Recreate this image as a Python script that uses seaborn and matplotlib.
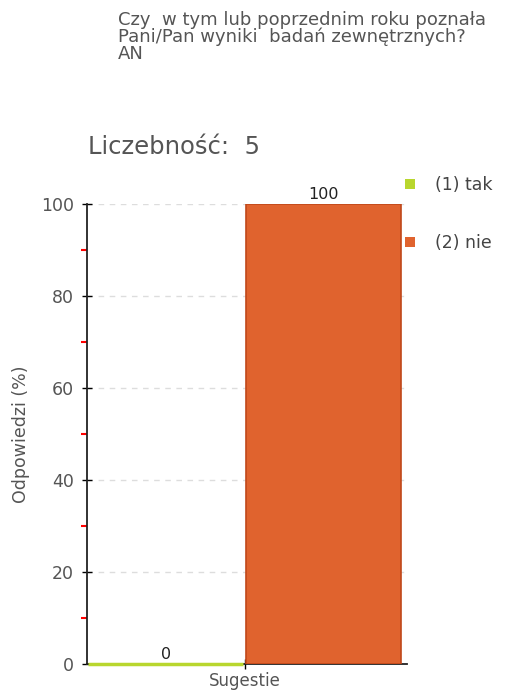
import pandas as pd
import seaborn as sns
import matplotlib
matplotlib.use("Agg")
from matplotlib import pyplot as plt
from matplotlib.patches import Patch
from matplotlib.ticker import MultipleLocator

# data
answers = ["(1) tak", "(2) nie"]
percent = [0, 100]
colors = ["#b8d62e", "#e0632e"]
edges = ["#9cbf1a", "#c0481a"]
title = "Czy  w tym lub poprzednim roku poznała\nPani/Pan wyniki  badań zewnętrznych?\nAN"
count_text = "Liczebność:  5"

df = pd.DataFrame({"odp": answers, "val": percent})

sns.set_style("white")
plt.rcParams["font.family"] = ["DejaVu Sans"]

fig = plt.figure(figsize=(5.23, 6.93), dpi=100)
ax = fig.add_axes([87 / 523, 29 / 693, 320 / 523, 460 / 693])

sns.barplot(data=df, x="odp", y="val", hue="odp", palette=colors, saturation=1,
            width=0.985, legend=False, ax=ax, zorder=3)
for bar, ec in zip(ax.patches, edges):
    bar.set_edgecolor(ec)
    bar.set_linewidth(1.2)
ax.patches[0].set_linewidth(2.5)
ax.patches[0].set_edgecolor(colors[0])
ax.patches[0].set_clip_on(False)

for i, v in enumerate(percent):
    ax.text(i, v + 0.5, str(v), ha="center", va="bottom", fontsize=11.5, color="#222222")

ax.set_ylim(0, 100)
ax.set_xlim(-0.5, 1.53)
ax.set_xticks([0.5])
ax.set_xticklabels(["Sugestie"], fontsize=12, color="#555555")
ax.set_xlabel("")
ax.set_ylabel("Odpowiedzi (%)", fontsize=12.5, color="#555555", labelpad=8)
ax.yaxis.set_major_locator(MultipleLocator(20))
ax.yaxis.set_minor_locator(MultipleLocator(10))
ax.tick_params(left=True, bottom=True)
ax.tick_params(axis="y", which="major", direction="inout", length=7, width=1,
               color="black", labelsize=12.5, labelcolor="#555555", pad=6)
ax.tick_params(axis="y", which="minor", left=True, direction="out", length=4,
               width=1.5, color="#ff0000")
ax.tick_params(axis="x", direction="inout", length=7, width=1, color="black", pad=2)
ax.yaxis.grid(True, linestyle=(0, (4, 4)), color="#dddddd", linewidth=1, zorder=0)
for s in ["top", "right"]:
    ax.spines[s].set_visible(False)
for s in ["left", "bottom"]:
    ax.spines[s].set_color("#222222")
    ax.spines[s].set_linewidth(1.3)

handles = [Patch(facecolor=c, edgecolor="none") for c in colors]
leg = fig.legend(handles, answers, loc="upper left",
                 bbox_to_anchor=(405 / 523, 1 - 176 / 693),
                 frameon=False, fontsize=12.5, labelspacing=2.3, handlelength=0.55,
                 handleheight=0.55, handletextpad=1.2, borderaxespad=0, borderpad=0)
for t in leg.get_texts():
    t.set_color("#444444")

fig.text(118 / 523, 1 - 11 / 693, title, ha="left", va="top", fontsize=13,
         color="#555555", linespacing=0.9)
fig.text(88 / 523, 1 - 147 / 693, count_text, ha="left", va="center", fontsize=17.5,
         color="#555555")

fig.savefig("out.png", dpi=100)
